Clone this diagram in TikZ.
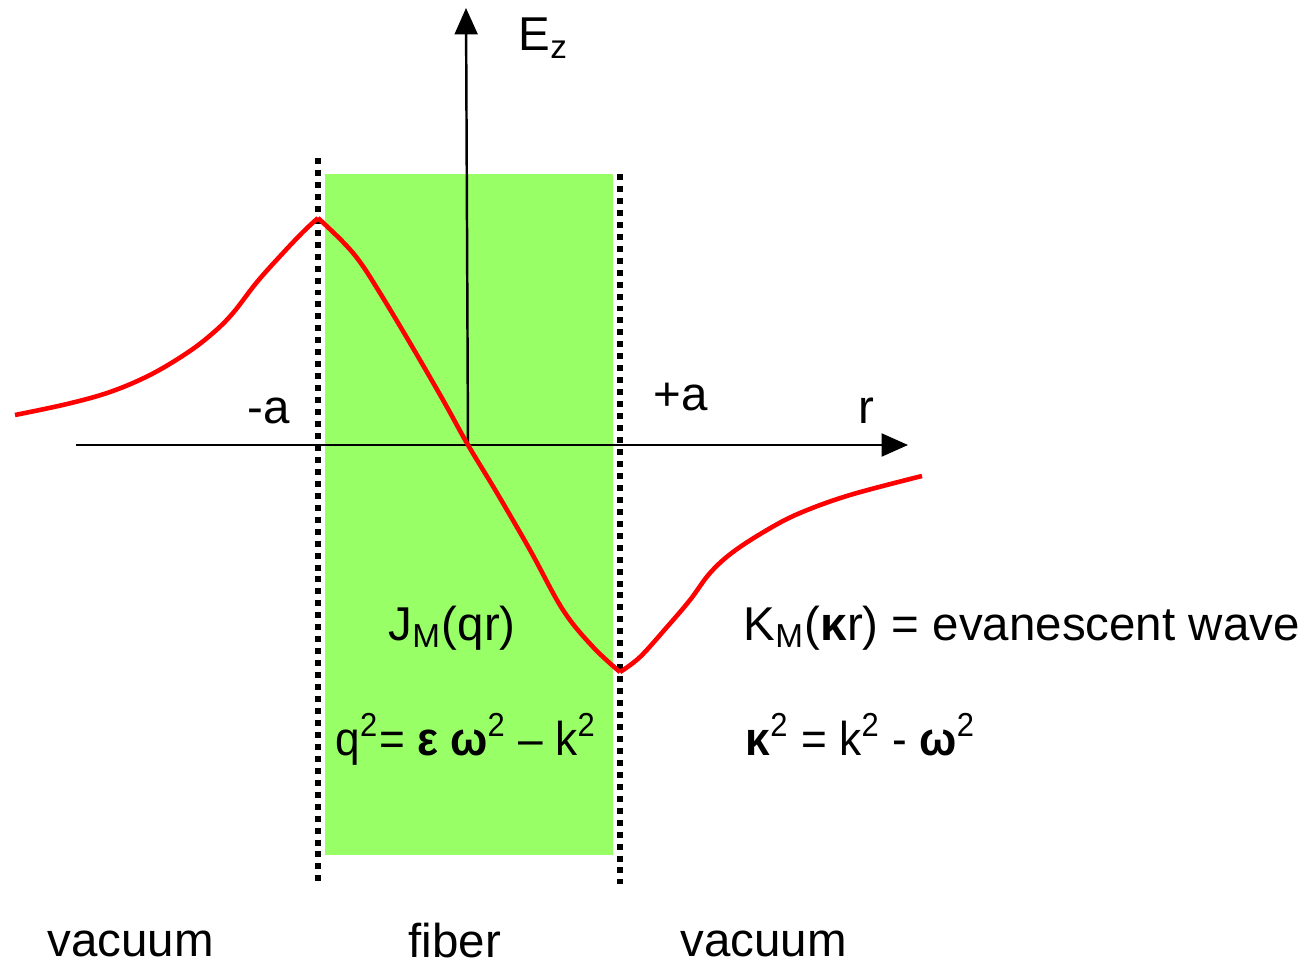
\documentclass[tikz,border=0pt]{standalone}
\usepackage{fontspec}
\setmainfont{Liberation Sans}
\usetikzlibrary{arrows.meta}
\definecolor{fibergreen}{HTML}{99FF66}

\begin{document}
\begin{tikzpicture}[x=0.01cm,y=-0.01cm,
    lbl/.style={anchor=base west,inner sep=0pt,font=\fontsize{13.5}{16}\selectfont},
    formula/.style={lbl,xscale=0.93},
    boundary/.style={line width=1.7pt,dash pattern=on 1.7pt off 1.7pt},
    axis/.style={line width=0.7pt,-{Triangle[length=7.5pt,width=6.5pt]}}]
    \useasboundingbox (0,0) rectangle (1304,964);

    % the fiber core
    \fill[fibergreen] (325,174) rectangle (613,855);

    % Define the boundaries at -a and +a
    \coordinate (Ltop) at (318,158);
    \coordinate (Lbot) at (318,884);
    \coordinate (Rtop) at (620,174);
    \coordinate (Rbot) at (620,884);
    \draw[boundary] (Ltop) -- (Lbot);
    \draw[boundary] (Rtop) -- (Rbot);

    % axes
    \coordinate (O) at (468,445);
    \coordinate (Rleft) at (76,445);
    \coordinate (Rend) at (908,445);
    \coordinate (Etop) at (466,8);
    \draw[axis] (Rleft) -- (Rend);
    \draw[axis] (O) -- (Etop);

    % field profile: peak at -a, dip at +a
    \coordinate (P) at (318,218);
    \coordinate (M) at (620,672);
    \draw[red,line width=1.3pt,line join=round] plot[smooth,tension=0.6] coordinates {
        (15,415) (67,404) (110,392) (150,375) (187,353) (213,333) (233,313)
        (257,282) (283,253) (303,232) (P)}
      plot[smooth,tension=0.6] coordinates {
        (P) (343,242) (360,262) (380,293) (410,343) (443,400) (O)
        (497,493) (530,550) (563,610) (593,647) (M)}
      plot[smooth,tension=0.6] coordinates {
        (M) (640,657) (667,627) (690,600) (710,573) (733,552) (767,530)
        (800,513) (850,495) (922,476)};

    % labels
    \node[lbl] (ez) at (518,51) {E\textsubscript{z}};
    \node[lbl] (ma) at (247,423) {-a};
    \node[lbl] (pa) at (653,410) {+a};
    \node[lbl] (rr) at (858,423) {r};
    \node[lbl] (jm) at (388,640) {J\textsubscript{M}(qr)};
    \node[formula] (qq) at (335,755) {q\textsuperscript{2}= \textbf{ε ω}\textsuperscript{2} – k\textsuperscript{2}};
    \node[lbl] (km) at (743,640) {K\textsubscript{M}(\textbf{κ}r) = evanescent wave};
    \node[formula] (kk) at (745,755) {\textbf{κ}\textsuperscript{2} = k\textsuperscript{2} - \textbf{ω}\textsuperscript{2}};
    \node[lbl] (vl) at (47,956) {vacuum};
    \node[lbl] (fb) at (408,957) {fiber};
    \node[lbl] (vr) at (680,956) {vacuum};
\end{tikzpicture}
\end{document}
